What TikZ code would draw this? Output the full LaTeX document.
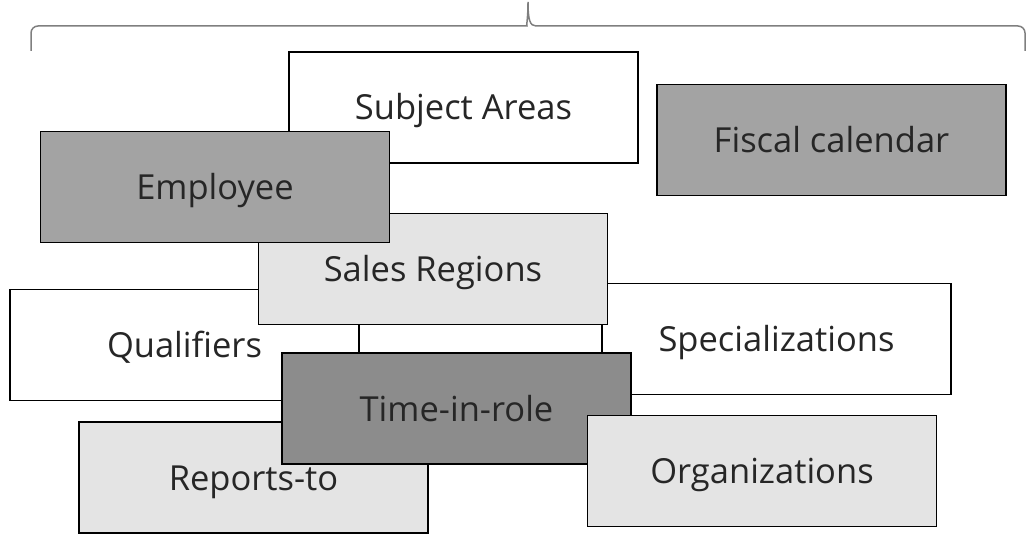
\documentclass[tikz,border=0pt]{standalone}
\usepackage{fontspec}
\setmainfont{Open Sans}
\definecolor{txt}{HTML}{262626}
\definecolor{lightfill}{HTML}{E4E4E4}
\definecolor{midfill}{HTML}{A3A3A3}
\definecolor{darkfill}{HTML}{8C8C8C}
\definecolor{bracecol}{HTML}{7F7F7F}
\tikzset{
  box/.style={draw=black, line width=1.5pt, rectangle, minimum width=349pt, minimum height=111pt,
    inner sep=0pt, text height=25pt, text depth=0pt, text=txt, font=\fontsize{34.5}{40}\selectfont},
  bracestyle/.style={draw=bracecol, line width=1.5pt}
}
\begin{document}
\begin{tikzpicture}[x=1pt,y=-1pt]
\useasboundingbox (0,0) rectangle (1032,537);
% brace
\coordinate (bl) at (31,51);
\coordinate (br) at (1025,51);
\coordinate (bt) at (528,2);
\draw[bracestyle] (bl) [rounded corners=7pt] -- (31,26) -- (520,26) [sharp corners]
  .. controls (526,26) and (528,20) .. (bt)
  .. controls (528,20) and (530,26) .. (536,26) [rounded corners=7pt] -- (1025,26) -- (br);
% boxes
\node[box, fill=white] (subj) at (463.5,107.5) {Subject Areas};
\node[box, fill=midfill] (fisc) at (831.5,140) {Fiscal calendar};
\node[box, fill=white] (qual) at (184.5,345) {Qualifiers};
\node[box, fill=white] (spec) at (776.5,339) {Specializations};
\node[box, fill=lightfill] (sales) at (433,269) {Sales Regions};
\node[box, fill=midfill] (emp) at (215,187) {Employee};
\node[box, fill=lightfill] (rep) at (253.5,477.5) {Reports-to};
\node[box, fill=darkfill] (time) at (456.5,408.5) {Time-in-role};
\node[box, fill=lightfill] (org) at (762,471) {Organizations};
\end{tikzpicture}
\end{document}
